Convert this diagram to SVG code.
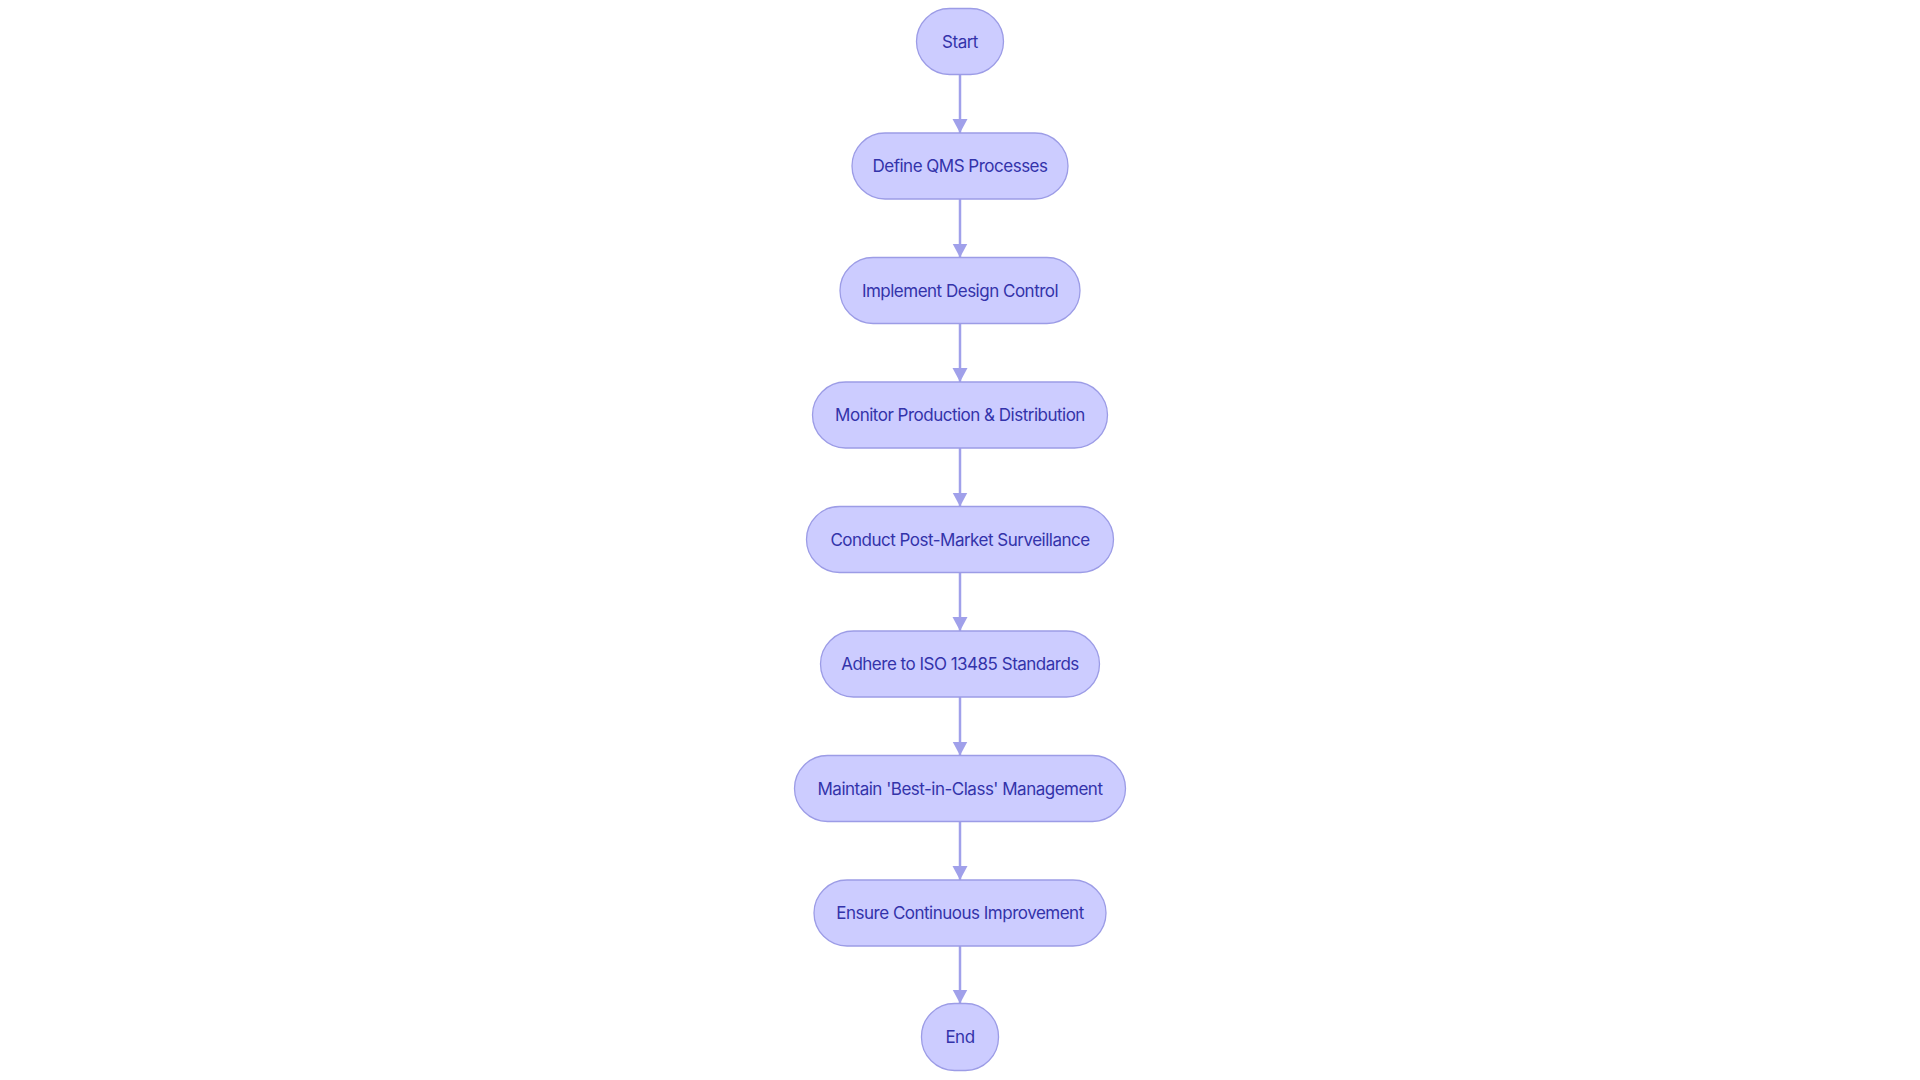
<svg xmlns="http://www.w3.org/2000/svg" width="1920" height="1080" viewBox="0 0 1920 1080">
<style>
.node rect{fill:#CCCCFF;stroke:#9C9CE6;stroke-width:1.3}
.node text{font-family:Inter,"Liberation Sans",sans-serif;font-size:17px;letter-spacing:-0.5px;fill:#3333AA;text-anchor:middle;dominant-baseline:central}
.edge{stroke:#A0A0EA;stroke-width:2.5;fill:none;marker-end:url(#arrow)}
</style>
<defs>
<marker id="arrow" markerUnits="userSpaceOnUse" markerWidth="16" markerHeight="16" refX="14" refY="8" orient="auto">
<path d="M0,0.5 L14,8 L0,15.5 Z" fill="#A0A0EA"/>
</marker>
</defs>
<rect width="1920" height="1080" fill="#FFFFFF"/>
<g id="connectors">
<line class="edge" x1="960" y1="74.5" x2="960" y2="133"/>
<line class="edge" x1="960" y1="199" x2="960" y2="257.5"/>
<line class="edge" x1="960" y1="323.5" x2="960" y2="382"/>
<line class="edge" x1="960" y1="448" x2="960" y2="506.5"/>
<line class="edge" x1="960" y1="572.5" x2="960" y2="631"/>
<line class="edge" x1="960" y1="697" x2="960" y2="755.5"/>
<line class="edge" x1="960" y1="821.5" x2="960" y2="880"/>
<line class="edge" x1="960" y1="946" x2="960" y2="1003.5"/>
</g>
<g id="start" class="node"><rect x="916.5" y="8.5" width="87" height="66" rx="33"/><text x="960" y="41.5">Start</text></g>
<g id="define" class="node"><rect x="852" y="133" width="216" height="66" rx="33"/><text x="960" y="166">Define QMS Processes</text></g>
<g id="implement" class="node"><rect x="840" y="257.5" width="240" height="66" rx="33"/><text x="960" y="290.5">Implement Design Control</text></g>
<g id="monitor" class="node"><rect x="812.5" y="382" width="295" height="66" rx="33"/><text x="960" y="415">Monitor Production &amp; Distribution</text></g>
<g id="conduct" class="node"><rect x="806.5" y="506.5" width="307" height="66" rx="33"/><text x="960" y="539.5">Conduct Post-Market Surveillance</text></g>
<g id="adhere" class="node"><rect x="820.5" y="631" width="279" height="66" rx="33"/><text x="960" y="664">Adhere to ISO 13485 Standards</text></g>
<g id="maintain" class="node"><rect x="794.5" y="755.5" width="331" height="66" rx="33"/><text x="960" y="788.5">Maintain 'Best-in-Class' Management</text></g>
<g id="ensure" class="node"><rect x="814" y="880" width="292" height="66" rx="33"/><text x="960" y="913">Ensure Continuous Improvement</text></g>
<g id="end" class="node"><rect x="921.5" y="1003.5" width="77" height="67" rx="33"/><text x="960" y="1037">End</text></g>
</svg>
